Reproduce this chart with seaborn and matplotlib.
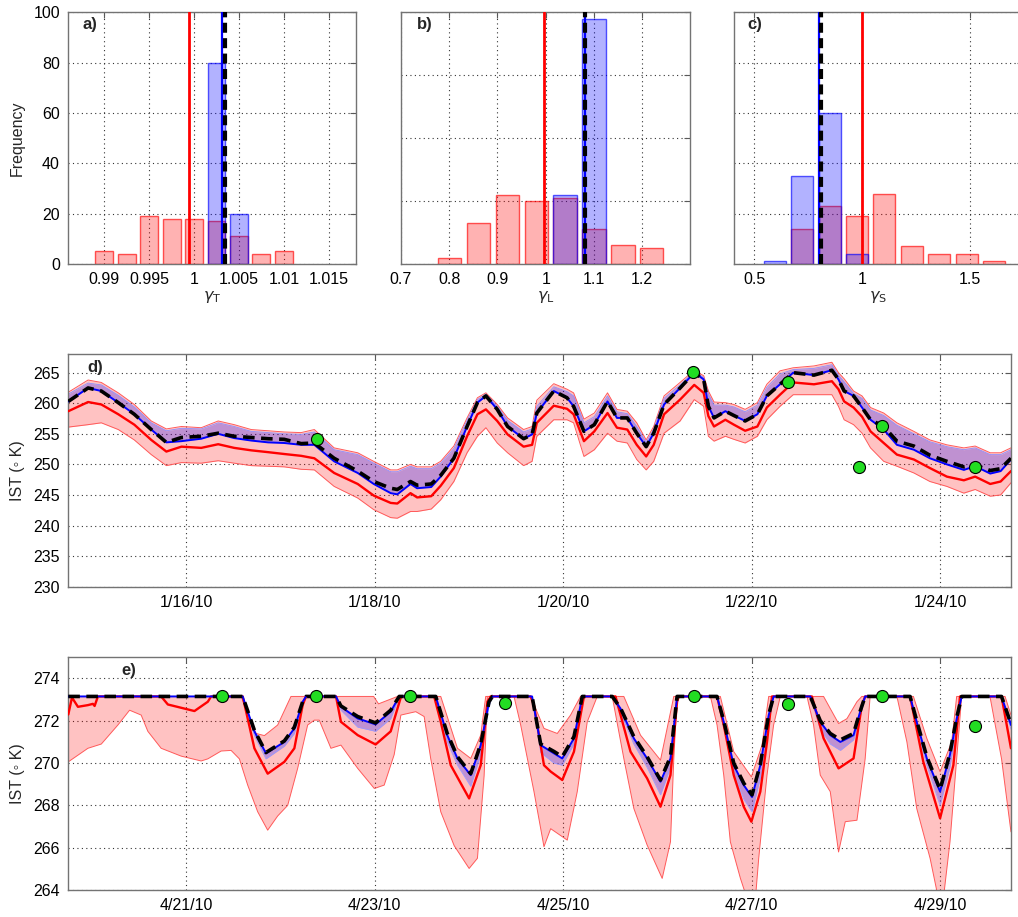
import numpy as np
import pandas as pd
import matplotlib
matplotlib.use("Agg")
import matplotlib.pyplot as plt
from matplotlib.colors import to_rgba
import seaborn as sns

sns.set_style("white")
plt.rcParams["font.family"] = ["Liberation Sans", "DejaVu Sans"]
plt.rcParams["mathtext.fontset"] = "dejavusans"

# ---------------- histogram data (top row) ----------------
a_red_centers = [0.99, 0.9925, 0.995, 0.9975, 1.0, 1.0025, 1.005, 1.0075, 1.01]
a_red_counts = [5, 4, 19, 18, 18, 17, 11, 4, 5]
a_blue_centers = [1.0025, 1.005]
a_blue_counts = [80, 20]
a_lines = {"red": 0.9994, "blue": 1.0031, "black": 1.0035}

b_red_centers = [0.80, 0.86, 0.92, 0.98, 1.04, 1.10, 1.16, 1.22]
b_red_counts = [2, 13, 22, 20, 21, 11, 6, 5]
b_blue_centers = [1.04, 1.10]
b_blue_counts = [22, 78]
b_lines = {"red": 0.997, "blue": 1.081, "black": 1.082}

c_red_centers = [0.722, 0.850, 0.977, 1.104, 1.232, 1.359, 1.486, 1.614]
c_red_counts = [14, 23, 19, 28, 7, 4, 4, 1]
c_blue_centers = [0.595, 0.722, 0.850, 0.977]
c_blue_counts = [1, 35, 60, 4]
c_lines = {"red": 0.999, "blue": 0.799, "black": 0.81}

# ---------------- January series (panel d), days since 1/14/10 18:00 ----------------
d_t = [0.00, 0.21, 0.35, 0.53, 0.70, 0.88, 1.04,
       1.20, 1.41, 1.59, 1.76, 1.94, 2.12, 2.29, 2.47, 2.61, 2.82,
       3.07, 3.24, 3.42, 3.49, 3.63, 3.70, 3.85, 3.95, 4.09, 4.23,
       4.34, 4.43, 4.55, 4.66, 4.83, 4.92, 4.97, 5.15, 5.29, 5.36,
       5.47, 5.58, 5.72, 5.82, 5.93, 6.03, 6.13, 6.21, 6.32, 6.49,
       6.64, 6.74, 6.79, 6.85, 6.97, 7.06, 7.18, 7.31, 7.41, 7.55,
       7.69, 7.91, 8.10, 8.17, 8.23, 8.33, 8.42, 8.51, 8.65, 8.79,
       8.97, 9.14, 9.32, 9.50, 9.62, 9.78, 9.89, 10.0]
d_blue = [260.3, 262.5, 262.0, 260.1, 258.2, 255.7, 253.6,
          253.8, 254.2, 255.0, 254.3, 253.9, 253.6, 253.5, 253.2, 253.2, 250.5,
          248.6, 246.8, 245.3, 245.1, 246.8, 246.1, 246.3, 248.0, 251.0, 256.2,
          260.1, 261.2, 259.0, 256.2, 254.2, 254.9, 258.4, 262.0, 260.9, 259.5,
          255.4, 256.5, 260.3, 257.6, 257.6, 255.1, 252.9, 255.1, 259.8, 262.5,
          265.0, 263.9, 259.5, 257.6, 258.7, 258.0, 257.1, 258.2, 261.2, 263.1,
          265.0, 264.6, 265.4, 263.9, 262.0, 261.2, 259.3, 257.3, 255.7, 253.2,
          252.4, 251.0, 250.0, 249.1, 249.7, 248.5, 248.9, 250.8]
d_black = [260.3, 262.5, 262.0, 260.1, 258.2, 255.7, 253.6,
           254.4, 254.6, 255.1, 254.6, 254.4, 254.2, 254.1, 253.4, 253.5, 251.0,
           248.9, 247.2, 246.1, 245.9, 247.2, 246.6, 246.8, 248.2, 251.0, 256.2,
           260.1, 261.2, 259.0, 256.2, 254.2, 254.9, 258.4, 262.0, 260.9, 259.5,
           255.4, 256.5, 260.3, 257.6, 257.6, 255.1, 252.9, 255.1, 259.8, 262.5,
           265.0, 263.9, 259.5, 257.6, 258.7, 258.0, 257.1, 258.2, 261.2, 263.1,
           265.0, 264.6, 265.4, 263.9, 262.0, 261.2, 259.3, 257.3, 256.2, 253.8,
           253.0, 251.5, 250.5, 249.6, 249.9, 249.0, 249.3, 251.0]
d_blue_hi = [261.5, 263.3, 263.0, 261.3, 259.4, 256.8, 255.5,
             255.9, 255.8, 256.8, 256.2, 255.4, 255.2, 255.0, 254.9, 255.3, 252.4,
             251.6, 250.2, 248.8, 248.8, 249.7, 249.3, 249.3, 250.2, 252.6, 257.2,
             260.6, 261.5, 259.5, 257.2, 255.3, 255.8, 259.5, 262.7, 261.9, 261.2,
             256.8, 257.8, 261.2, 258.6, 258.3, 256.2, 253.6, 255.8, 260.8, 263.0,
             265.2, 264.2, 261.5, 259.7, 259.7, 259.4, 258.6, 259.7, 262.6, 264.8,
             265.5, 265.7, 266.3, 264.6, 263.5, 261.6, 260.8, 258.9, 258.0, 256.4,
             255.0, 253.7, 252.9, 252.4, 252.7, 251.6, 251.6, 252.4]
d_red = [258.7, 260.2, 259.8, 258.2, 256.5, 254.0, 252.1,
         252.9, 252.7, 253.3, 252.7, 252.3, 252.0, 251.7, 251.4, 251.0, 248.6,
         246.8, 244.9, 243.7, 243.6, 245.3, 244.6, 244.8, 246.5, 249.4, 254.6,
         258.2, 259.0, 257.1, 254.9, 252.9, 253.2, 256.8, 259.6, 259.1, 258.2,
         253.8, 255.4, 258.4, 256.0, 255.7, 253.2, 251.3, 253.2, 258.2, 260.6,
         263.0, 261.7, 257.9, 256.2, 257.3, 256.5, 255.5, 256.2, 259.3, 261.4,
         263.4, 263.1, 263.6, 262.3, 260.3, 259.3, 257.8, 255.4, 253.5, 251.6,
         250.8, 249.4, 248.0, 247.4, 248.0, 246.8, 247.2, 248.9]
d_red_hi = [261.8, 263.8, 263.4, 261.7, 259.8, 257.1, 255.8,
            256.2, 256.0, 257.1, 256.5, 255.7, 255.5, 255.3, 255.2, 255.7, 252.7,
            251.9, 250.5, 249.1, 249.1, 250.0, 249.6, 249.6, 250.5, 253.0, 257.6,
            260.9, 261.7, 259.8, 257.6, 255.7, 256.2, 260.5, 263.2, 262.3, 261.7,
            257.4, 258.4, 261.7, 259.0, 258.7, 256.8, 254.0, 256.2, 261.2, 263.4,
            265.4, 264.5, 262.0, 260.2, 260.1, 259.8, 259.0, 260.1, 263.1, 265.3,
            265.8, 266.1, 266.7, 265.0, 264.0, 262.0, 261.2, 259.3, 258.4, 256.8,
            255.4, 254.0, 253.2, 252.7, 253.0, 251.9, 251.9, 252.7]
d_red_lo = [256.1, 256.5, 256.8, 255.7, 254.0, 251.6, 249.8,
            250.3, 250.2, 250.6, 250.2, 249.8, 249.7, 249.6, 249.2, 249.1, 246.4,
            244.5, 242.6, 241.3, 241.2, 242.3, 242.3, 242.7, 244.2, 247.2, 251.9,
            254.6, 256.0, 253.5, 251.9, 249.8, 250.5, 254.6, 257.3, 257.3, 256.8,
            251.3, 252.4, 255.1, 253.8, 253.5, 250.8, 249.1, 250.5, 255.1, 257.1,
            260.6, 259.5, 254.6, 253.8, 254.6, 254.1, 253.5, 254.6, 257.3, 259.5,
            261.4, 261.4, 261.4, 259.5, 257.3, 256.5, 255.1, 252.7, 250.5, 249.7,
            248.6, 247.2, 246.4, 245.3, 245.9, 244.8, 245.0, 247.0]
d_obs_t = [2.64, 6.63, 7.63, 8.39, 8.63, 9.62]
d_obs = [254.2, 265.1, 263.4, 249.6, 256.2, 249.6]
d_origin = "2010-01-14 18:00"
d_tick_dates = ["2010-01-16", "2010-01-18", "2010-01-20", "2010-01-22", "2010-01-24"]

# ---------------- April series (panel e), days since 4/19/10 18:00 ----------------
e_t = [0.0, 1.85, 1.974, 2.097, 2.292, 2.398, 2.486, 2.521,
       2.84, 2.892, 3.07, 3.26, 3.42, 3.51,
       3.898, 4.02, 4.128, 4.269, 4.375, 4.463, 4.499,
       4.92, 5.011, 5.152, 5.24, 5.364, 5.452,
       5.77, 5.858, 5.999, 6.14, 6.282, 6.388, 6.458,
       6.882, 6.953, 7.059, 7.165, 7.253, 7.341, 7.43, 7.482,
       7.871, 7.977, 8.083, 8.19, 8.33, 8.40, 8.453,
       8.93, 9.0, 9.107, 9.248, 9.352, 9.424, 9.477,
       9.90, 10.0]
e_blue = [273.15, 273.15, 271.5, 270.46, 271.0, 271.64, 272.9, 273.15,
          273.15, 272.66, 272.11, 271.83, 272.43, 273.15,
          273.15, 271.32, 270.22, 269.43, 270.85, 272.9, 273.15,
          273.15, 270.85, 270.46, 270.22, 271.17, 273.15,
          273.15, 272.58, 271.17, 270.22, 269.12, 270.22, 273.15,
          273.15, 271.95, 269.9, 268.96, 268.4, 269.9, 272.27, 273.15,
          273.15, 271.95, 271.32, 271.0, 271.32, 272.43, 273.15,
          273.15, 271.95, 270.22, 268.65, 270.38, 272.1, 273.15,
          273.15, 271.8]
e_black = [273.15, 273.15, 271.55, 270.5, 271.05, 271.7, 272.9, 273.15,
           273.15, 272.7, 272.2, 271.9, 272.5, 273.15,
           273.15, 271.4, 270.3, 269.5, 270.9, 272.9, 273.15,
           273.15, 270.9, 270.55, 270.3, 271.25, 273.15,
           273.15, 272.6, 271.25, 270.3, 269.2, 270.3, 273.15,
           273.15, 272.0, 270.0, 269.05, 268.5, 269.95, 272.3, 273.15,
           273.15, 272.0, 271.4, 271.1, 271.4, 272.45, 273.15,
           273.15, 272.0, 270.3, 268.75, 270.45, 272.15, 273.15,
           273.15, 271.85]
e_blue_lo = [273.15, 273.15, 271.3, 270.2, 270.8, 271.4, 272.8, 273.15,
             273.15, 272.5, 271.7, 271.5, 272.1, 273.15,
             273.15, 271.0, 269.9, 268.9, 270.4, 272.7, 273.15,
             273.15, 270.5, 270.0, 269.9, 270.9, 273.15,
             273.15, 272.4, 270.9, 269.8, 268.5, 269.8, 273.15,
             273.15, 271.7, 269.5, 268.3, 267.7, 269.3, 272.0, 273.15,
             273.15, 271.6, 270.9, 270.6, 271.1, 272.2, 273.15,
             273.15, 271.7, 269.9, 268.0, 269.8, 271.8, 273.15,
             273.15, 271.6]
e_red_t = [0.0, 0.039, 0.102, 0.208, 0.261, 0.279, 0.314,
           0.985, 1.056, 1.338, 1.48, 1.515,
           1.85, 1.974, 2.115, 2.292, 2.398, 2.486, 2.521,
           2.84, 2.892, 3.07, 3.26, 3.42, 3.53,
           3.881, 3.951, 4.057, 4.252, 4.375, 4.446, 4.48,
           4.904, 4.94, 5.046, 5.117, 5.24, 5.364, 5.47,
           5.805, 5.964, 6.14, 6.282, 6.388, 6.458, 6.476,
           6.882, 6.953, 7.059, 7.165, 7.246, 7.341, 7.412, 7.465,
           7.888, 8.012, 8.171, 8.33, 8.418, 8.453,
           8.93, 9.07, 9.248, 9.389, 9.459,
           9.90, 10.0]
e_red = [272.3, 273.1, 272.66, 272.74, 272.8, 272.7, 273.15,
         273.15, 272.77, 272.46, 272.9, 273.15,
         273.15, 270.7, 269.5, 270.06, 270.7, 272.74, 273.15,
         273.15, 271.95, 271.32, 270.88, 271.5, 273.15,
         273.15, 271.95, 269.9, 268.33, 269.9, 272.9, 273.15,
         273.15, 272.74, 269.9, 269.6, 269.2, 270.54, 273.15,
         273.15, 270.54, 269.28, 267.94, 269.43, 272.9, 273.15,
         273.15, 271.8, 269.43, 267.94, 267.23, 268.65, 271.0, 273.15,
         273.15, 271.17, 269.75, 270.22, 272.74, 273.15,
         273.15, 270.06, 267.39, 269.9, 273.15,
         273.15, 270.7]
e_hi_t = [0.0, 1.833, 1.992, 2.08, 2.221, 2.362,
          3.239, 3.291, 3.492,
          3.951, 4.128, 4.269, 4.375, 4.428,
          4.904, 5.046, 5.187, 5.328, 5.434,
          5.893, 6.07, 6.282, 6.423,
          6.917, 7.059, 7.246, 7.359, 7.43,
          8.012, 8.171, 8.26, 8.366, 8.418,
          8.965, 9.107, 9.248, 9.371, 9.424,
          9.937, 10.0]
e_red_hi = [273.15, 273.15, 271.4, 271.3, 271.8, 273.15,
            273.15, 272.8, 273.15,
            273.15, 270.7, 270.22, 271.32, 273.15,
            273.15, 271.64, 271.4, 272.27, 273.15,
            273.15, 271.32, 270.14, 273.15,
            273.15, 270.54, 269.35, 270.85, 273.15,
            273.15, 271.87, 272.1, 272.9, 273.15,
            273.15, 271.17, 269.59, 271.0, 273.15,
            273.15, 272.27]
e_lo_t = [0.0, 0.208, 0.35, 0.526, 0.65, 0.773, 0.844, 0.985, 1.197, 1.409,
          1.48, 1.621, 1.727, 1.815, 1.903, 2.009, 2.115, 2.221, 2.327, 2.433,
          2.539, 2.61, 2.662, 2.786, 2.892, 3.07, 3.246, 3.351, 3.457, 3.528,
          3.686, 3.775, 3.845, 3.951, 4.093, 4.252, 4.34, 4.411, 4.446, 4.728,
          4.799, 4.94, 5.046, 5.117, 5.293, 5.399, 5.505, 5.611, 5.77, 5.893,
          5.999, 6.14, 6.30, 6.388, 6.423, 6.458, 6.812, 6.882, 6.953, 7.023,
          7.13, 7.2, 7.289, 7.324, 7.412, 7.482, 7.553, 7.836, 7.906, 7.977,
          8.083, 8.171, 8.242, 8.366, 8.453, 8.506, 8.79, 8.896, 9.0, 9.142,
          9.23, 9.283, 9.353, 9.424, 9.477, 9.777, 9.90, 10.0]
e_red_lo = [270.06, 270.7, 270.9, 271.8, 272.5, 272.27, 271.5, 270.7, 270.33, 270.1,
            270.2, 270.57, 270.6, 270.2, 268.96, 267.7, 266.83, 267.5, 268.0, 269.75,
            271.8, 272.03, 272.03, 270.7, 270.85, 269.75, 268.8, 268.96, 270.4, 272.27,
            272.43, 272.2, 270.2, 267.7, 266.1, 265.02, 265.5, 269.4, 273.15, 273.15,
            271.8, 268.65, 266.05, 266.9, 266.36, 268.65, 271.95, 273.15, 273.15, 270.22,
            267.86, 266.13, 264.55, 266.28, 270.2, 273.15, 273.15, 271.8, 269.43, 266.28,
            264.55, 263.6, 263.6, 265.5, 269.43, 271.8, 273.15, 273.15, 271.8, 269.43,
            268.65, 265.8, 267.23, 267.3, 270.2, 273.15, 273.15, 271.0, 267.86, 265.5,
            263.6, 263.6, 266.28, 270.2, 273.15, 273.15, 270.2, 266.75]
e_obs_t = [1.63, 2.63, 3.62, 4.63, 6.635, 7.63, 8.63, 9.62]
e_obs = [273.15, 273.15, 273.15, 272.85, 273.15, 272.79, 273.15, 271.75]
e_origin = "2010-04-19 18:00"
e_tick_dates = ["2010-04-21", "2010-04-23", "2010-04-25", "2010-04-27", "2010-04-29"]

RED = (1.0, 0.0, 0.0)
BLUE = (0.0, 0.0, 1.0)
GREEN = "#22DD22"
FS = 11.5

fig = plt.figure(figsize=(10.18, 9.17), dpi=100)
ax_a = fig.add_axes([0.0671, 0.7121, 0.2823, 0.2745])
ax_b = fig.add_axes([0.3939, 0.7121, 0.2839, 0.2745])
ax_c = fig.add_axes([0.7210, 0.7121, 0.2839, 0.2745])
ax_d = fig.add_axes([0.0671, 0.3602, 0.9260, 0.2534])
ax_e = fig.add_axes([0.0671, 0.0294, 0.9260, 0.2538])


def style_axes(ax):
    ax.set_axisbelow(True)
    ax.grid(True, linestyle=(0, (1, 3)), color="0.2", linewidth=0.8)
    ax.tick_params(direction="in", top=True, right=True, length=4, width=0.8,
                   color="0.35", labelsize=FS, labelcolor="black", pad=6)
    for s in ax.spines.values():
        s.set_color("0.45")
        s.set_linewidth(1.0)


def hist_bars(ax, centers, counts, spacing, color):
    n0 = len(ax.patches)
    c = np.asarray(centers, dtype=float)
    edges = [float(v) for v in np.append(c - spacing / 2, c[-1] + spacing / 2)]
    frame = pd.DataFrame({"value": c, "count": np.asarray(counts, dtype=float)})
    sns.histplot(data=frame, x="value", weights="count", bins=edges, shrink=0.8,
                 ax=ax, color=color, stat="count")
    for p in ax.patches[n0:]:
        p.set_facecolor(to_rgba(color, 0.3))
        p.set_edgecolor(to_rgba(color, 0.65))
        p.set_linewidth(1.0)


def vlines(ax, lines):
    ax.axvline(lines["red"], color=RED, lw=2.0, zorder=4)
    ax.axvline(lines["blue"], color=BLUE, lw=1.6, zorder=4)
    ax.axvline(lines["black"], color="black", lw=3.0, ls=(0, (2.4, 1.3)), zorder=5)


panels = [
    (ax_a, a_red_centers, a_red_counts, a_blue_centers, a_blue_counts, 0.0025, a_lines),
    (ax_b, b_red_centers, b_red_counts, b_blue_centers, b_blue_counts, 0.06, b_lines),
    (ax_c, c_red_centers, c_red_counts, c_blue_centers, c_blue_counts, 0.1273, c_lines),
]
for ax, rc, rn, bc, bn, sp, ln in panels:
    hist_bars(ax, rc, rn, sp, RED)
    hist_bars(ax, bc, bn, sp, BLUE)
    vlines(ax, ln)
    style_axes(ax)
    ax.set_ylabel("")

ax_a.set_xlim(0.986, 1.018)
ax_a.set_ylim(0, 100)
ax_a.set_xticks([0.99, 0.995, 1.0, 1.005, 1.01, 1.015])
ax_a.set_xticklabels(["0.99", "0.995", "1", "1.005", "1.01", "1.015"])
ax_a.set_yticks([0, 20, 40, 60, 80, 100])
ax_a.set_ylabel("Frequency", fontsize=FS, labelpad=6)
ax_a.set_xlabel(r"$\gamma_{\mathrm{T}}$", fontsize=FS, labelpad=1)

ax_b.set_xlim(0.7, 1.299)
ax_b.set_ylim(0, 80)
ax_b.set_xticks([0.7, 0.8, 0.9, 1.0, 1.1, 1.2])
ax_b.set_xticklabels(["0.7", "0.8", "0.9", "1", "1.1", "1.2"])
ax_b.set_yticks([0, 20, 40, 60, 80])
ax_b.set_yticklabels([])
ax_b.set_xlabel(r"$\gamma_{\mathrm{L}}$", fontsize=FS, labelpad=1)

ax_c.set_xlim(0.405, 1.748)
ax_c.set_ylim(0, 100)
ax_c.set_xticks([0.5, 1.0, 1.5])
ax_c.set_xticklabels(["0.5", "1", "1.5"])
ax_c.set_yticks([0, 20, 40, 60, 80, 100])
ax_c.set_yticklabels([])
ax_c.set_xlabel(r"$\gamma_{\mathrm{S}}$", fontsize=FS, labelpad=1)

for ax, lab, x in [(ax_a, "a)", 0.05), (ax_b, "b)", 0.054), (ax_c, "c)", 0.048)]:
    ax.text(x, 0.95, lab, transform=ax.transAxes, fontsize=12, fontweight="bold",
            va="center", ha="left")


def thin(ax, x, y, color, lw=0.7):
    sns.lineplot(x=x, y=y, ax=ax, color=color, lw=lw, estimator=None, sort=False)


def series_line(ax, x, y, color, lw, dashes=None, z=3):
    sns.lineplot(x=x, y=y, ax=ax, color=color, lw=lw, estimator=None, sort=False)
    ln = ax.lines[-1]
    ln.set_zorder(z)
    if dashes is not None:
        ln.set_dashes(dashes)
        ln.set_dash_capstyle("butt")


def date_ticks(ax, origin, tick_dates):
    t0 = pd.Timestamp(origin)
    dates = pd.to_datetime(tick_dates)
    pos = (dates - t0) / pd.Timedelta(days=1)
    ax.set_xticks(list(pos))
    ax.set_xticklabels([f"{d.month}/{d.day}/{d:%y}" for d in dates])


# ---- panel d ----
ax_d.fill_between(d_t, d_red_lo, d_red_hi, color=to_rgba(RED, 0.24), lw=0, zorder=1)
thin(ax_d, d_t, d_red_hi, (1.0, 0.35, 0.35))
thin(ax_d, d_t, d_red_lo, (1.0, 0.35, 0.35))
ax_d.fill_between(d_t, d_blue, d_blue_hi, color=to_rgba(BLUE, 0.25), lw=0, zorder=1.5)
thin(ax_d, d_t, d_blue_hi, (0.55, 0.55, 1.0), lw=0.6)
series_line(ax_d, d_t, d_red, RED, 1.7)
series_line(ax_d, d_t, d_blue, BLUE, 1.4)
series_line(ax_d, d_t, d_black, "black", 2.6, dashes=(3.2, 1.8), z=4)
sns.scatterplot(x=d_obs_t, y=d_obs, ax=ax_d, color=GREEN, s=75, edgecolor="black",
                linewidth=0.8, zorder=6)
ax_d.set_xlim(0, 10)
ax_d.set_ylim(230, 268)
ax_d.set_yticks(np.arange(230, 266, 5))
date_ticks(ax_d, d_origin, d_tick_dates)
style_axes(ax_d)
ax_d.set_ylabel("IST (\u25e6 K)", fontsize=FS, labelpad=6)
ax_d.text(0.02, 0.945, "d)", transform=ax_d.transAxes, fontsize=12,
          fontweight="bold", va="center", ha="left")

# ---- panel e ----
poly_x = list(e_hi_t) + list(e_lo_t)[::-1]
poly_y = list(e_red_hi) + list(e_red_lo)[::-1]
ax_e.fill(poly_x, poly_y, color=to_rgba(RED, 0.24), lw=0, zorder=1)
thin(ax_e, e_hi_t, e_red_hi, (1.0, 0.35, 0.35))
thin(ax_e, e_lo_t, e_red_lo, (1.0, 0.35, 0.35))
ax_e.fill_between(e_t, e_blue_lo, e_blue, color=to_rgba(BLUE, 0.25), lw=0, zorder=1.5)
thin(ax_e, e_t, e_blue_lo, (0.6, 0.6, 1.0), lw=0.6)
series_line(ax_e, e_red_t, e_red, RED, 1.7)
series_line(ax_e, e_t, e_blue, BLUE, 1.4)
series_line(ax_e, e_t, e_black, "black", 2.6, dashes=(3.2, 1.8), z=4)
sns.scatterplot(x=e_obs_t, y=e_obs, ax=ax_e, color=GREEN, s=75, edgecolor="black",
                linewidth=0.8, zorder=6)
ax_e.set_xlim(0, 10)
ax_e.set_ylim(264, 275)
ax_e.set_yticks(np.arange(264, 275, 2))
date_ticks(ax_e, e_origin, e_tick_dates)
style_axes(ax_e)
ax_e.set_ylabel("IST (\u25e6 K)", fontsize=FS, labelpad=6)
ax_e.text(0.056, 0.945, "e)", transform=ax_e.transAxes, fontsize=12,
          fontweight="bold", va="center", ha="left")

for ax in (ax_d, ax_e):
    ax.set_xlabel("")

fig.savefig("out.png", dpi=100)
